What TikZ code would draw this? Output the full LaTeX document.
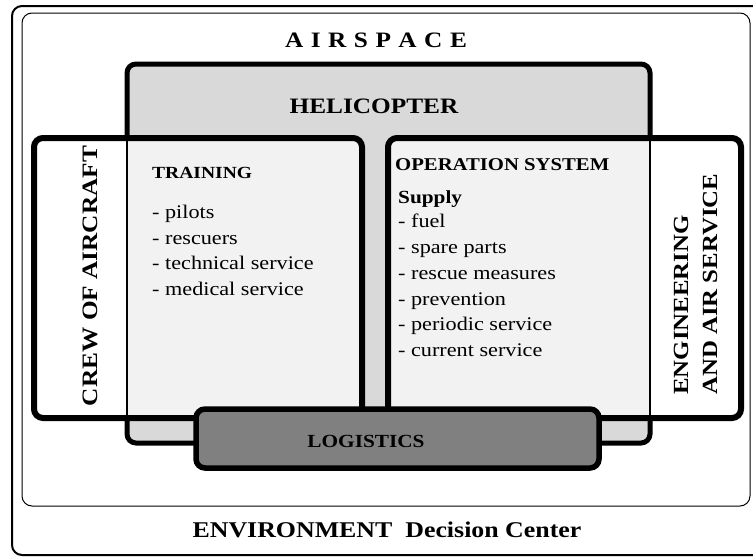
\documentclass[tikz,border=0pt]{standalone}
\usepackage{fontspec}
\setmainfont{Liberation Serif}[FakeStretch=1.15]
\usepackage{tikz}
\tikzstyle{frame}=[draw=black,rounded corners=10pt]
\tikzstyle{block}=[draw=black,line width=6pt,rounded corners=9pt]
\tikzstyle{title}=[inner sep=0pt,anchor=base,font=\bfseries\fontsize{22}{26}\selectfont]
\tikzstyle{head}=[inner sep=0pt,anchor=base west,font=\bfseries\fontsize{18}{22}\selectfont]
\tikzstyle{item}=[inner sep=0pt,anchor=base west,font=\fontsize{19.3}{23}\selectfont]

\begin{document}
\begin{tikzpicture}[x=1pt,y=-1pt]
        \clip (0,0) rectangle (753,557);
        \fill[white] (0,0) rectangle (753,557);
        % environment and airspace
        \draw[frame,line width=2pt] (12,6) rectangle (775,555);
        \draw[frame,line width=1pt] (22,13) rectangle (750,506);
        % helicopter
        \draw[block,line width=5pt,fill=black!15] (127,64) rectangle (650,443);
        % crew of aircraft
        \begin{scope}
          \clip[rounded corners=9pt] (34,138) rectangle (362,418);
          \fill[white] (34,138) rectangle (362,418);
          \fill[black!5] (127,138) rectangle (362,418);
        \end{scope}
        \draw[line width=2.5pt] (127,138) -- (127,418);
        \draw[block] (34,138) rectangle (362,418);
        % engineering and air service
        \begin{scope}
          \clip[rounded corners=9pt] (388,138) rectangle (741,418);
          \fill[white] (388,138) rectangle (741,418);
          \fill[black!5] (388,138) rectangle (650,418);
        \end{scope}
        \draw[line width=2.5pt] (650,138) -- (650,418);
        \draw[block] (388,138) rectangle (741,418);
        % logistics
        \draw[block,line width=5.5pt,fill=black!50] (196,409) rectangle (599,468);

        \node[title] (airspace) at (376,47) {\spaceskip=7.5pt A I R S P A C E};
        \node[title] (helicopter) at (374,113) {HELICOPTER};
        \node[title,font=\bfseries\fontsize{22.5}{26}\selectfont] (environment) at (387,537) {ENVIRONMENT\ \ Decision Center};
        \node[title,rotate=90] (crew) at (97,276) {CREW OF AIRCRAFT};
        \node[title,anchor=base west,rotate=90,font=\bfseries\fontsize{21.6}{26}\selectfont] (eng) at (688,395) {ENGINEERING};
        \node[title,anchor=base west,rotate=90,font=\bfseries\fontsize{21.6}{26}\selectfont] (air) at (717,395) {AND AIR SERVICE};
        \node[head,font=\bfseries\fontsize{18.5}{22}\selectfont,anchor=base] (logistics) at (366,447) {LOGISTICS};

        \node[head,font=\bfseries\fontsize{17}{20}\selectfont] (training) at (152,178) {TRAINING};
        \node[item] (pilots) at (152,218) {- pilots};
        \node[item] (rescuers) at (152,244) {- rescuers};
        \node[item] (technical) at (152,269) {- technical service};
        \node[item] (medical) at (152,295) {- medical service};

        \node[head] (operation) at (395,170) {OPERATION SYSTEM};
        \node[head,font=\bfseries\fontsize{18.5}{22}\selectfont] (supply) at (398,203) {Supply};
        \node[item] (fuel) at (398,227) {- fuel};
        \node[item] (parts) at (398,253) {- spare parts};
        \node[item] (measures) at (398,279) {- rescue measures};
        \node[item] (prevention) at (398,305) {- prevention};
        \node[item] (periodic) at (398,330) {- periodic service};
        \node[item] (current) at (398,356) {- current service};
      \end{tikzpicture}
\end{document}
